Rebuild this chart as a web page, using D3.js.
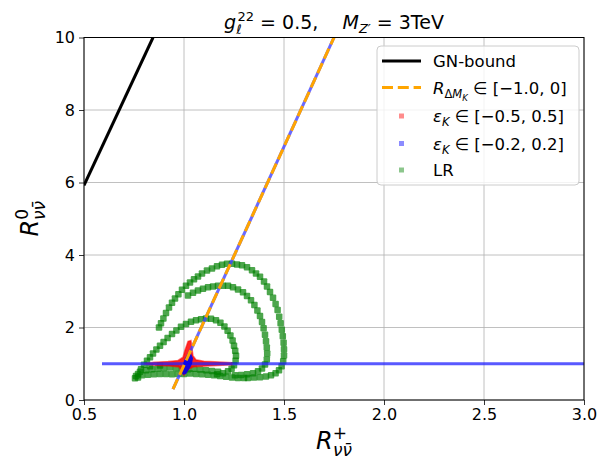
<!DOCTYPE html>
<head>
    <meta charset="UTF-8">
    <title>R nu nubar</title>
</head>
<style>
    body { margin: 0; background: #fff; }
    svg text { font-family: "DejaVu Sans", sans-serif; white-space: pre; }
    .grid line { stroke: #b0b0b0; stroke-width: 0.8; }
    .axis path { display: none; }
    .axis line { stroke: #000; stroke-width: 0.8; }
    .axis text { font-size: 16px; fill: #000; }
</style>
<body>
<script src="https://d3js.org/d3.v7.min.js"></script>
<script>
    // tick values
    var xTicks = [0.5, 1.0, 1.5, 2.0, 2.5, 3.0];
    var yTicks = [0, 2, 4, 6, 8, 10];

    // GN bound (visible part)
    var gnX = [0.5, 0.845];
    var gnY = [5.92, 10.0];

    // R_dMK band line
    var dmkX = [0.945, 1.75];
    var dmkY = [0.30, 10.0];

    // eps_K in [-0.2,0.2] : horizontal branch + central blob
    var blueHX = [0.59, 3.0];
    var blueHY = [1.0, 1.0];
    var blueBlobX = [0.985, 0.995, 1.005, 1.02, 1.035, 1.045, 1.04, 1.03, 1.01, 0.995];
    var blueBlobY = [0.80, 1.00, 1.15, 1.30, 1.28, 1.15, 1.00, 0.88, 0.72, 0.70];

    // eps_K in [-0.5,0.5] : outline of red cloud
    var redX = [0.80, 0.85, 0.92, 0.97, 0.995, 1.005, 1.02, 1.035, 1.04, 1.045, 1.06, 1.10, 1.18, 1.24, 1.24, 1.12, 1.05, 1.02, 1.0, 0.985, 0.975, 0.93, 0.85];
    var redY = [1.00, 1.04, 1.06, 1.09, 1.18, 1.38, 1.62, 1.64, 1.42, 1.22, 1.11, 1.07, 1.05, 1.03, 0.97, 0.94, 0.92, 0.84, 0.68, 0.80, 0.91, 0.94, 0.96];

    // LR points : outer arc
    var lrOuterX = [0.875, 0.885, 0.897, 0.91, 0.925, 0.94, 0.955, 0.972, 0.99, 1.01, 1.03, 1.05, 1.07, 1.09, 1.115, 1.14, 1.165, 1.19, 1.215, 1.24, 1.265, 1.29, 1.315, 1.34, 1.36, 1.38, 1.40, 1.415, 1.43, 1.445, 1.458, 1.468, 1.476, 1.483, 1.489, 1.494, 1.498, 1.50, 1.50, 1.496, 1.488, 1.475, 1.458, 1.435, 1.41, 1.38, 1.35, 1.32];
    var lrOuterY = [2.00, 2.12, 2.25, 2.40, 2.55, 2.68, 2.80, 2.92, 3.04, 3.15, 3.24, 3.33, 3.41, 3.49, 3.57, 3.63, 3.69, 3.73, 3.76, 3.76, 3.74, 3.72, 3.66, 3.58, 3.49, 3.40, 3.27, 3.13, 2.98, 2.82, 2.65, 2.48, 2.30, 2.12, 1.94, 1.76, 1.58, 1.40, 1.23, 1.07, 0.93, 0.82, 0.74, 0.68, 0.65, 0.63, 0.62, 0.61];

    // LR points : middle arc
    var lrMidX = [1.02, 1.045, 1.07, 1.095, 1.12, 1.145, 1.17, 1.195, 1.22, 1.245, 1.27, 1.295, 1.315, 1.335, 1.352, 1.367, 1.38, 1.39, 1.398, 1.405, 1.41, 1.414, 1.416, 1.414, 1.405, 1.39, 1.37, 1.345, 1.315, 1.285, 1.255];
    var lrMidY = [2.88, 2.96, 3.02, 3.07, 3.11, 3.13, 3.15, 3.15, 3.15, 3.11, 3.05, 2.97, 2.87, 2.75, 2.62, 2.47, 2.32, 2.15, 1.98, 1.80, 1.62, 1.45, 1.28, 1.12, 0.98, 0.87, 0.79, 0.74, 0.71, 0.69, 0.68];

    // LR points : inner arc
    var lrInX = [0.77, 0.785, 0.80, 0.815, 0.83, 0.845, 0.862, 0.88, 0.898, 0.918, 0.94, 0.962, 0.985, 1.01, 1.035, 1.06, 1.085, 1.11, 1.135, 1.16, 1.182, 1.202, 1.218, 1.232, 1.243, 1.25, 1.256, 1.26, 1.258, 1.25, 1.238, 1.22, 1.195, 1.165];
    var lrInY = [0.72, 0.85, 0.97, 1.08, 1.18, 1.28, 1.39, 1.50, 1.60, 1.71, 1.82, 1.92, 2.02, 2.10, 2.16, 2.20, 2.23, 2.25, 2.24, 2.20, 2.13, 2.03, 1.91, 1.78, 1.64, 1.50, 1.36, 1.22, 1.08, 0.96, 0.86, 0.79, 0.74, 0.71];

    // LR points : bottom band
    var lrLowX = [0.76, 0.79, 0.82, 0.85, 0.88, 0.91, 0.94, 0.97, 1.0, 1.03, 1.06, 1.09, 1.12, 1.15, 1.18, 1.21, 1.24, 1.27, 1.30,
                  0.78, 0.81, 0.84, 0.87, 0.90, 0.93, 0.96, 0.99, 1.02, 1.05, 1.08, 1.11, 1.14, 1.17, 0.83, 0.88, 0.755, 0.77];
    var lrLowY = [0.66, 0.68, 0.70, 0.71, 0.72, 0.72, 0.71, 0.72, 0.72, 0.73, 0.72, 0.71, 0.70, 0.68, 0.66, 0.64, 0.62, 0.61, 0.61,
                  0.78, 0.82, 0.85, 0.87, 0.88, 0.90, 0.88, 0.86, 0.85, 0.86, 0.84, 0.82, 0.80, 0.78, 0.93, 0.95, 0.60, 0.62];

    var margin = {top: 37.5, right: 18, bottom: 66, left: 84},
        width = 602 - margin.left - margin.right,
        height = 466 - margin.top - margin.bottom;

    var x = d3.scaleLinear().domain([0.5, 3.0]).range([0, width]);
    var y = d3.scaleLinear().domain([0, 10]).range([height, 0]);

    var svg = d3.select("body").append("svg")
        .attr("width", 602)
        .attr("height", 466);
    var g = svg.append("g")
        .attr("transform", "translate(" + margin.left + "," + margin.top + ")");

    g.append("clipPath").attr("id", "clip")
        .append("rect").attr("width", width).attr("height", height);

    // grid
    g.append("g").attr("class", "grid")
        .selectAll("line.v").data(xTicks).enter().append("line")
        .attr("x1", x).attr("x2", x).attr("y1", 0).attr("y2", height);
    g.append("g").attr("class", "grid")
        .selectAll("line.h").data(yTicks).enter().append("line")
        .attr("y1", y).attr("y2", y).attr("x1", 0).attr("x2", width);

    var plot = g.append("g").attr("clip-path", "url(#clip)");
    var line = d3.line().x(function(d) { return x(d[0]); }).y(function(d) { return y(d[1]); });
    function pts(xs, ys) { return xs.map(function(v, i) { return [v, ys[i]]; }); }

    // GN bound
    plot.append("path").attr("d", line(pts(gnX, gnY)))
        .attr("fill", "none").attr("stroke", "#000").attr("stroke-width", 3);

    // LR
    var lr = pts(lrOuterX, lrOuterY).concat(pts(lrMidX, lrMidY), pts(lrInX, lrInY), pts(lrLowX, lrLowY));
    plot.selectAll("rect.lr").data(lr).enter().append("rect")
        .attr("x", function(d) { return x(d[0]) - 3.25; })
        .attr("y", function(d) { return y(d[1]) - 3.25; })
        .attr("width", 6.5).attr("height", 6.5).attr("rx", 1)
        .attr("fill", "green").attr("fill-opacity", 0.7);

    // eps 0.5 (red)
    plot.append("path").attr("d", line(pts(redX, redY)) + "Z")
        .attr("fill", "red").attr("fill-opacity", 0.85)
        .attr("stroke", "red").attr("stroke-opacity", 0.5).attr("stroke-width", 1.5);

    // eps 0.2 (blue)
    plot.append("path").attr("d", line(pts(blueHX, blueHY)))
        .attr("fill", "none").attr("stroke", "#2222ff").attr("stroke-opacity", 0.75).attr("stroke-width", 3);
    plot.append("path").attr("d", line(pts(dmkX, dmkY)))
        .attr("fill", "none").attr("stroke", "#4444ff").attr("stroke-opacity", 0.8).attr("stroke-width", 3);
    plot.append("path").attr("d", line(pts(blueBlobX, blueBlobY)) + "Z")
        .attr("fill", "#0000ee").attr("fill-opacity", 0.9);

    // R_dMK dashed
    plot.append("path").attr("d", line(pts(dmkX, dmkY)))
        .attr("fill", "none").attr("stroke", "orange").attr("stroke-width", 3)
        .attr("stroke-dasharray", "11,4.8");

    // axes
    g.append("g").attr("class", "axis")
        .attr("transform", "translate(0," + height + ")")
        .call(d3.axisBottom(x).tickValues(xTicks).tickFormat(d3.format(".1f")).tickSize(5).tickPadding(4));
    g.append("g").attr("class", "axis")
        .call(d3.axisLeft(y).tickValues(yTicks).tickFormat(d3.format("d")).tickSize(5).tickPadding(4));
    g.append("rect").attr("width", width).attr("height", height)
        .attr("fill", "none").attr("stroke", "#000").attr("stroke-width", 1);

    // title
    var t = svg.append("text").attr("x", margin.left + width / 2).attr("y", 29)
        .attr("text-anchor", "middle").attr("font-size", 19);
    t.append("tspan").attr("font-style", "italic").text("g");
    t.append("tspan").attr("font-style", "italic").attr("font-size", 13).attr("dy", 5).text("\u2113");
    t.append("tspan").attr("font-size", 13).attr("dx", -4).attr("dy", -13).text("22");
    t.append("tspan").attr("dy", 8).text(" = 0.5,    ");
    t.append("tspan").attr("font-style", "italic").text("M");
    t.append("tspan").attr("font-style", "italic").attr("font-size", 13).attr("dy", 4).text("Z\u2032");
    t.append("tspan").attr("dy", -4).text(" = 3TeV");

    // x label
    var xl = svg.append("text").attr("x", margin.left + width / 2).attr("y", 449)
        .attr("text-anchor", "middle").attr("font-size", 24);
    xl.append("tspan").attr("font-style", "italic").text("R");
    xl.append("tspan").attr("font-size", 17).attr("dy", -10).text("+");
    xl.append("tspan").attr("font-size", 17).attr("font-style", "italic").attr("dx", -14).attr("dy", 17).text("\u03bd\u03bd\u0304");

    // y label
    var yl = svg.append("text").attr("transform", "translate(38," + (margin.top + height / 2) + ") rotate(-90)")
        .attr("text-anchor", "middle").attr("font-size", 24);
    yl.append("tspan").attr("font-style", "italic").text("R");
    yl.append("tspan").attr("font-size", 17).attr("dy", -10).text("0");
    yl.append("tspan").attr("font-size", 17).attr("font-style", "italic").attr("dx", -11).attr("dy", 17).text("\u03bd\u03bd\u0304");

    // legend
    var lg = svg.append("g");
    lg.append("rect").attr("x", 377).attr("y", 46).attr("width", 202).attr("height", 139).attr("rx", 4)
        .attr("fill", "#fff").attr("fill-opacity", 0.8).attr("stroke", "#cccccc");
    var rows = [61, 87.5, 116, 143.5, 170];
    lg.append("line").attr("x1", 382).attr("x2", 421).attr("y1", rows[0]).attr("y2", rows[0])
        .attr("stroke", "#000").attr("stroke-width", 3);
    lg.append("line").attr("x1", 382).attr("x2", 421).attr("y1", rows[1]).attr("y2", rows[1])
        .attr("stroke", "orange").attr("stroke-width", 3).attr("stroke-dasharray", "11,4.8");
    [["red", rows[2]], ["blue", rows[3]], ["green", rows[4]]].forEach(function(r) {
        lg.append("rect").attr("x", 399).attr("y", r[1] - 2.5).attr("width", 5).attr("height", 5)
            .attr("fill", r[0]).attr("fill-opacity", 0.45);
    });
    function label(yy) {
        return lg.append("text").attr("x", 433).attr("y", yy + 6).attr("font-size", 16.5);
    }
    label(rows[0]).text("GN-bound");
    var l2 = label(rows[1]);
    l2.append("tspan").attr("font-style", "italic").text("R");
    l2.append("tspan").attr("font-size", 11.5).attr("dy", 4).text("\u0394");
    l2.append("tspan").attr("font-size", 11.5).attr("font-style", "italic").text("M");
    l2.append("tspan").attr("font-size", 8.5).attr("font-style", "italic").attr("dy", 3).text("K");
    l2.append("tspan").attr("dy", -7).text(" \u2208 [\u22121.0, 0]");
    [[rows[2], "0.5"], [rows[3], "0.2"]].forEach(function(r) {
        var l = label(r[0]);
        l.append("tspan").attr("font-style", "italic").text("\u03b5");
        l.append("tspan").attr("font-size", 11.5).attr("font-style", "italic").attr("dy", 4).text("K");
        l.append("tspan").attr("dy", -4).text(" \u2208 [\u2212" + r[1] + ", " + r[1] + "]");
    });
    label(rows[4]).text("LR");
</script>
</body>
